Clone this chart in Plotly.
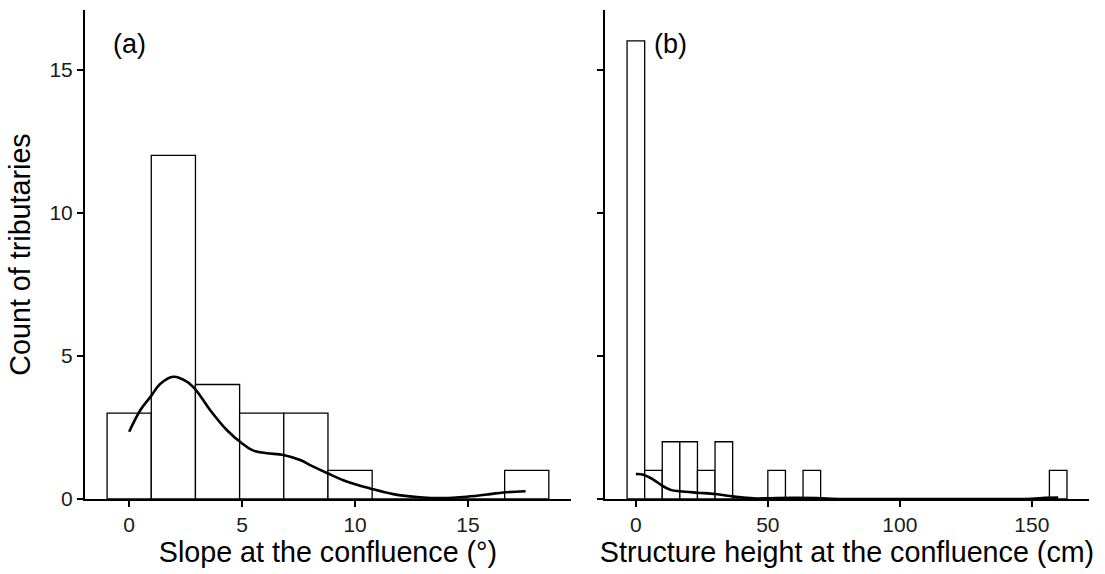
import plotly.graph_objects as go

# --- Panel (a): slope at the confluence (degrees), 10 bins ---
slope_bin_centers = [0.0, 1.956, 3.911, 5.867, 7.822, 9.778, 11.733, 13.689, 15.644, 17.6]
slope_counts = [3, 12, 4, 3, 3, 1, 0, 0, 0, 1]
slope_bin_width = 1.956

# smoothed density curve (scaled to counts)
slope_kde_x = [0, 0.49, 0.99, 1.37, 1.96, 2.55, 2.93, 3.58, 4.32, 5.0, 5.5, 6.1, 6.83,
               7.57, 8.15, 8.78, 9.63, 10.66, 11.69, 12.87, 13.9, 14.94, 15.97, 16.56, 17.55]
slope_kde_y = [2.35, 3.10, 3.62, 4.02, 4.27, 4.10, 3.83, 3.11, 2.41, 1.94, 1.69, 1.60, 1.54,
               1.36, 1.13, 0.90, 0.61, 0.37, 0.17, 0.06, 0.03, 0.08, 0.17, 0.23, 0.27]

# --- Panel (b): structure height at the confluence (cm), 25 bins ---
height_bin_centers = [0, 6.667, 13.333, 20, 26.667, 33.333, 40, 46.667, 53.333, 60,
                      66.667, 73.333, 80, 86.667, 93.333, 100, 106.667, 113.333, 120,
                      126.667, 133.333, 140, 146.667, 153.333, 160]
height_counts = [16, 1, 2, 2, 1, 2, 0, 0, 1, 0,
                 1, 0, 0, 0, 0, 0, 0, 0, 0,
                 0, 0, 0, 0, 0, 1]
height_bin_width = 6.667

height_kde_x = [0, 2.8, 6.6, 9.9, 13.5, 16.7, 23.4, 30.1, 35.6, 40.7, 45.7, 53.3, 61,
                68.4, 78.5, 100, 140, 150, 155, 160]
height_kde_y = [0.87, 0.85, 0.68, 0.47, 0.31, 0.27, 0.22, 0.175, 0.105, 0.047, 0.02, 0.035,
                0.04, 0.03, 0.0, 0.0, 0.0, 0.01, 0.04, 0.05]

x_ticks_a = [0, 5, 10, 15]
x_ticks_b = [0, 50, 100, 150]
y_ticks = [0, 5, 10, 15]

FONT = "Liberation Sans, Arial, Helvetica, sans-serif"
TICK_SIZE = 21
TITLE_SIZE = 28.7

fig = go.Figure()

fig.add_trace(go.Bar(
    x=slope_bin_centers, y=slope_counts, width=slope_bin_width,
    marker=dict(color="white", line=dict(color="black", width=1.3)),
    xaxis="x", yaxis="y", showlegend=False, hoverinfo="skip",
))
fig.add_trace(go.Scatter(
    x=slope_kde_x, y=slope_kde_y, mode="lines",
    line=dict(color="black", width=2.6, shape="spline", smoothing=1.0),
    xaxis="x", yaxis="y", showlegend=False, hoverinfo="skip",
))
fig.add_trace(go.Bar(
    x=height_bin_centers, y=height_counts, width=height_bin_width,
    marker=dict(color="white", line=dict(color="black", width=1.3)),
    xaxis="x2", yaxis="y2", showlegend=False, hoverinfo="skip",
))
fig.add_trace(go.Scatter(
    x=height_kde_x, y=height_kde_y, mode="lines",
    line=dict(color="black", width=2.6, shape="spline", smoothing=1.0),
    xaxis="x2", yaxis="y2", showlegend=False, hoverinfo="skip",
))

axis_common = dict(
    showgrid=False, zeroline=False, showline=True, linecolor="black", linewidth=2,
    ticks="outside", ticklen=6, tickwidth=1.8, tickcolor="black",
    tickfont=dict(family=FONT, size=TICK_SIZE, color="#1a1a1a"),
)

fig.update_layout(
    width=1105, height=574,
    margin=dict(l=85, r=16, t=10, b=75),
    paper_bgcolor="white", plot_bgcolor="white",
    font=dict(family=FONT, color="black"),
    xaxis=dict(
        axis_common, domain=[0, 0.484], range=[-1.956, 19.556], anchor="y",
        tickvals=x_ticks_a,
        title=dict(text="Slope at the confluence (°)", font=dict(family=FONT, size=TITLE_SIZE),
                   standoff=4),
    ),
    yaxis=dict(
        axis_common, domain=[0, 1], range=[0, 17.08], anchor="x",
        tickvals=y_ticks,
        title=dict(text="Count of tributaries", font=dict(family=FONT, size=TITLE_SIZE),
                   standoff=10),
    ),
    xaxis2=dict(
        axis_common, domain=[0.518, 1.0], range=[-11.667, 171.667], anchor="y2",
        tickvals=x_ticks_b,
        title=dict(text="Structure height at the confluence (cm)",
                   font=dict(family=FONT, size=TITLE_SIZE), standoff=4),
    ),
    yaxis2=dict(
        axis_common, domain=[0, 1], range=[0, 17.08], anchor="x2",
        tickvals=y_ticks, showticklabels=False,
    ),
    annotations=[
        dict(text="(a)", x=0, y=15.9, xref="x", yref="y", showarrow=False,
             font=dict(family=FONT, size=27, color="black")),
        dict(text="(b)", x=13, y=15.9, xref="x2", yref="y2", showarrow=False,
             font=dict(family=FONT, size=27, color="black")),
    ],
)

fig.write_html("out.html")
